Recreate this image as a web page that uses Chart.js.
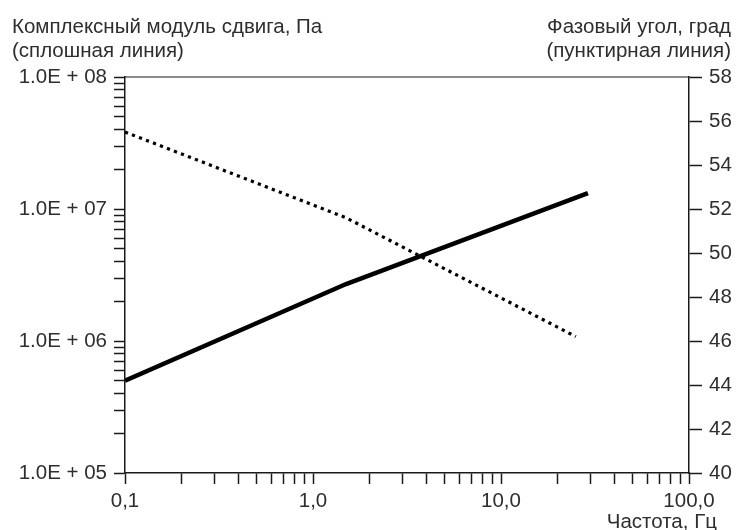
<!DOCTYPE html>
<html lang="ru">
<head>
<meta charset="utf-8">
<title>Комплексный модуль сдвига и фазовый угол</title>
<script src="https://cdn.jsdelivr.net/npm/chart.js@4"></script>
<style>
    body { margin: 0; background: #fff; }
    #wrap { width: 738px; height: 530px; }
</style>
</head>
<body>
<div id="wrap"><canvas id="chart" width="738" height="530"></canvas></div>
<script>
// frequency, Hz
const modulusFreq = [0.1, 1.5, 29];
const phaseFreq = [0.1, 1.5, 25];
// complex shear modulus, Pa (solid line)
const modulusValues = [5.0e5, 2.7e6, 1.32e7];
// phase angle, deg (dotted line)
const phaseValues = [55.5, 51.6, 46.2];

const xMajor = [0.1, 1, 10, 100];
const xLabels = ["0,1", "1,0", "10,0", "100,0"];
const yMajor = [1e5, 1e6, 1e7, 1e8];
const yLabels = ["1.0E + 05", "1.0E + 06", "1.0E + 07", "1.0E + 08"];

const leftTitle = ["Комплексный модуль сдвига, Па", "(сплошная линия)"];
const rightTitle = ["Фазовый угол, град", "(пунктирная линия)"];
const xTitle = "Частота, Гц";

const FONT = "'Liberation Sans', Arial, sans-serif";
const TEXT = "#2e2e2e";
const AXIS = "#1a1a1a";

function logTicks(majors) {
    const ticks = [];
    majors.forEach((m, i) => {
        if (i === majors.length - 1) {
            ticks.push({ value: m });
            return;
        }
        for (let k = 1; k <= 9; k++) {
            ticks.push({ value: m * k });
        }
    });
    return ticks;
}

function labelFor(value, majors, labels) {
    const idx = majors.findIndex(m => Math.abs(value / m - 1) < 1e-6);
    return idx >= 0 ? labels[idx] : "";
}

const cornerText = {
    id: "cornerText",
    afterDraw(chart) {
        const ctx = chart.ctx;
        ctx.save();
        ctx.fillStyle = TEXT;
        ctx.font = "20.5px " + FONT;
        ctx.textBaseline = "alphabetic";
        ctx.textAlign = "left";
        ctx.fillText(leftTitle[0], 12, 33);
        ctx.fillText(leftTitle[1], 12, 57);
        ctx.textAlign = "right";
        ctx.fillText(rightTitle[0], 731, 33);
        ctx.fillText(rightTitle[1], 731, 57);
        ctx.fillText(xTitle, 717, 528);
        ctx.restore();
    }
};

const ctx = document.getElementById("chart").getContext("2d");

new Chart(ctx, {
    type: "line",
    data: {
        datasets: [{
            label: "Комплексный модуль сдвига",
            data: modulusFreq.map((f, i) => ({ x: f, y: modulusValues[i] })),
            xAxisID: "x",
            yAxisID: "y",
            borderColor: "#000",
            borderWidth: 4.5,
            pointRadius: 0,
            tension: 0
        }, {
            label: "Фазовый угол",
            data: phaseFreq.map((f, i) => ({ x: f, y: phaseValues[i] })),
            xAxisID: "x",
            yAxisID: "y2",
            borderColor: "#000",
            borderWidth: 3.2,
            borderDash: [3.2, 4.3],
            pointRadius: 0,
            tension: 0
        }]
    },
    options: {
        responsive: false,
        animation: false,
        layout: {
            padding: { top: 77, left: 0, right: 0, bottom: 0 }
        },
        plugins: {
            legend: { display: false },
            tooltip: { enabled: false }
        },
        scales: {
            x: {
                type: "logarithmic",
                position: "bottom",
                min: 0.1,
                max: 100,
                afterBuildTicks: scale => { scale.ticks = logTicks(xMajor); },
                afterFit: scale => { scale.height = 57; },
                grid: {
                    drawOnChartArea: false,
                    color: AXIS,
                    tickLength: 11,
                    tickWidth: 1.5
                },
                border: { color: AXIS, width: 1.5 },
                ticks: {
                    autoSkip: false,
                    maxRotation: 0,
                    padding: 5,
                    color: TEXT,
                    font: { family: FONT, size: 20.5 },
                    callback: value => labelFor(value, xMajor, xLabels)
                }
            },
            xTop: {
                type: "logarithmic",
                position: "top",
                min: 0.1,
                max: 100,
                afterFit: scale => { scale.height = 0; },
                grid: { drawOnChartArea: false, drawTicks: false },
                border: { color: "#8a8a8a", width: 2 },
                ticks: { display: false }
            },
            y: {
                type: "logarithmic",
                position: "left",
                min: 1e5,
                max: 1e8,
                afterBuildTicks: scale => { scale.ticks = logTicks(yMajor); },
                afterFit: scale => { scale.width = 125; },
                grid: {
                    drawOnChartArea: false,
                    color: AXIS,
                    tickLength: 11,
                    tickWidth: 1.5
                },
                border: { color: AXIS, width: 1.5 },
                ticks: {
                    autoSkip: false,
                    padding: 7,
                    color: TEXT,
                    font: { family: FONT, size: 20.5 },
                    callback: value => labelFor(value, yMajor, yLabels)
                }
            },
            y2: {
                type: "linear",
                position: "right",
                min: 40,
                max: 58,
                afterFit: scale => { scale.width = 49; },
                grid: {
                    drawOnChartArea: false,
                    color: AXIS,
                    tickLength: 13,
                    tickWidth: 1.5
                },
                border: { color: AXIS, width: 1.5 },
                ticks: {
                    stepSize: 2,
                    padding: 7,
                    color: TEXT,
                    font: { family: FONT, size: 20.5 }
                }
            }
        }
    },
    plugins: [cornerText]
});
</script>
</body>
</html>
